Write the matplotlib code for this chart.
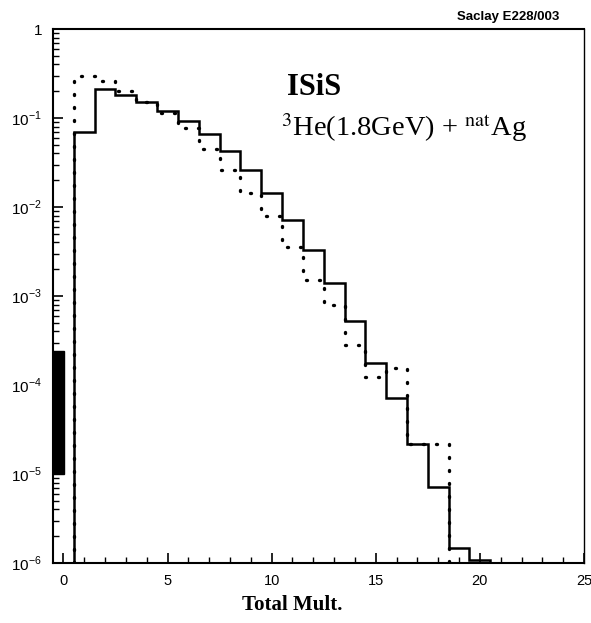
import numpy as np
import matplotlib
matplotlib.use("Agg")
import matplotlib.pyplot as plt
from matplotlib.patches import Rectangle

# bin centres (total multiplicity) and the two histograms
mult = [1, 2, 3, 4, 5, 6, 7, 8, 9, 10, 11, 12, 13, 14, 15, 16, 17, 18, 19, 20]
solid_vals = [0.070, 0.21, 0.18, 0.152, 0.121, 0.093, 0.0655, 0.0426, 0.026, 0.0143,
              0.00714, 0.00329, 0.00139, 5.24e-4, 1.78e-4, 7.1e-5, 2.17e-5, 7.2e-6,
              1.46e-6, 1.07e-6]
dotted_vals = [0.296, 0.26, 0.203, 0.15, 0.115, 0.0766, 0.0449, 0.026, 0.0143, 0.0079,
               0.00358, 0.00151, 7.9e-4, 2.8e-4, 1.24e-4, 1.57e-4, 2.2e-5, 2.2e-5]

# black bar (scan artefact) on the left edge: x range, y range
bar_x = [-0.5, 0.02]
bar_y = [1.0e-5, 2.4e-4]

xticks = [0, 5, 10, 15, 20, 25]
ydecades = [1e-6, 1e-5, 1e-4, 1e-3, 1e-2, 1e-1, 1]
ylabels = [r"$10^{-6}$", r"$10^{-5}$", r"$10^{-4}$", r"$10^{-3}$", r"$10^{-2}$", r"$10^{-1}$", "1"]

plt.rcParams['font.family'] = ['Liberation Sans', 'DejaVu Sans']
plt.rcParams['mathtext.fontset'] = 'custom'
plt.rcParams['mathtext.rm'] = 'Liberation Sans'

fig = plt.figure(figsize=(5.91, 6.23), dpi=100)
ax = fig.add_axes([0.0897, 0.0963, 0.8985, 0.8571])

ymin = 1e-6
edges_s = np.arange(len(solid_vals) + 1) + 0.5
edges_d = np.arange(len(dotted_vals) + 1) + 0.5
ax.stairs(solid_vals, edges_s, baseline=ymin, color='black', lw=1.8)
d = ax.stairs(dotted_vals, edges_d, baseline=ymin, color='black', lw=2.4,
              linestyle=(0, (0.3, 3.6)))
d.set_capstyle('round')

ax.add_patch(Rectangle((bar_x[0], bar_y[0]), bar_x[1] - bar_x[0], bar_y[1] - bar_y[0],
                       color='black', zorder=5, clip_on=False))

ax.set_yscale('log')
ax.set_xlim(-0.5, 25)
ax.set_ylim(ymin, 1)

ax.set_xticks(xticks)
ax.set_xticklabels([str(t) for t in xticks], fontsize=10.5)
ax.set_xticks(np.arange(0, 26, 1), minor=True)
ax.set_yticks(ydecades)
ax.set_yticklabels(ylabels, fontsize=11)
ax.yaxis.set_minor_locator(matplotlib.ticker.LogLocator(base=10, subs=np.arange(2, 10)))
ax.yaxis.set_minor_formatter(matplotlib.ticker.NullFormatter())

ax.tick_params(axis='both', which='major', direction='in', length=7, width=1.2, top=False, right=False)
ax.tick_params(axis='both', which='minor', direction='in', length=4, width=1.0, top=False, right=False)
ax.tick_params(axis='x', which='major', pad=8)
ax.tick_params(axis='y', which='major', pad=8)

for s in ['left', 'bottom', 'top']:
    ax.spines[s].set_linewidth(1.5)
ax.spines['right'].set_linewidth(1.0)

ax.set_xlabel("Total Mult.", family=['Liberation Serif'], fontsize=15, fontweight='bold')
ax.xaxis.set_label_coords(0.45, -0.06)

ax.text(0.44, 0.876, "ISiS", transform=ax.transAxes, family=['Liberation Serif'],
        fontsize=22, fontweight='bold')
ax.text(0.43, 0.80, r"$^{3}$He(1.8GeV) + $^{\mathrm{nat}}$Ag", transform=ax.transAxes,
        family=['Liberation Serif'], fontsize=20.5, math_fontfamily='stix')

fig.text(0.947, 0.972, "Saclay E228/003", ha='right', va='center', fontsize=9.5, fontweight='bold')

fig.savefig("out.png", dpi=100)
